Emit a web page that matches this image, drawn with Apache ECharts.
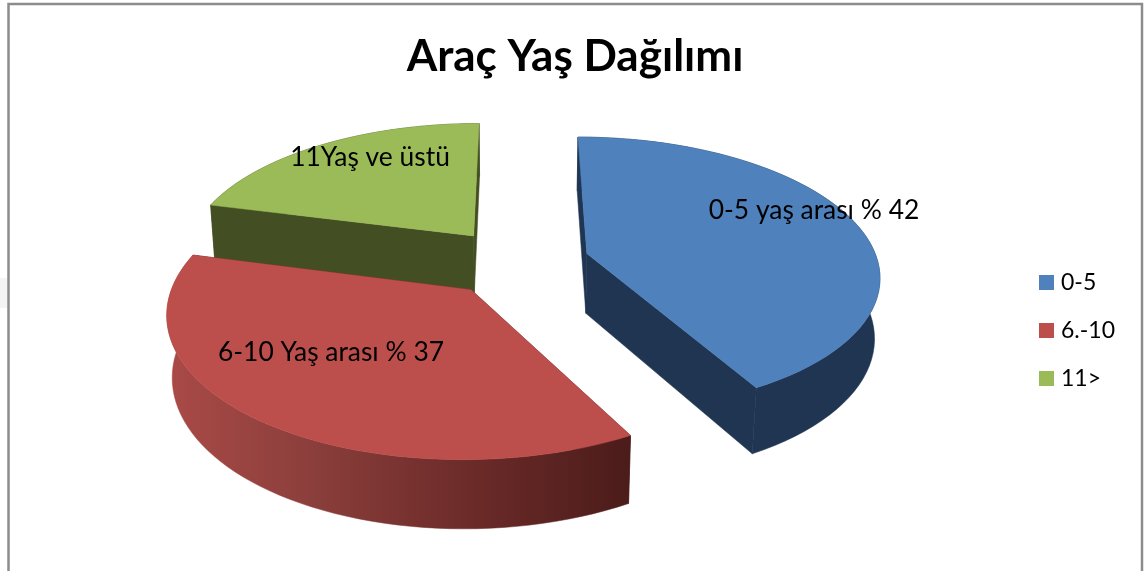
<!DOCTYPE html>
<html>
<head>
<meta charset="utf-8">
<style>
  html, body { margin: 0; padding: 0; background: #fff; }
  #chart { width: 1144px; height: 571px; }
</style>
<script src="https://cdn.jsdelivr.net/npm/echarts@6/dist/echarts.min.js"></script>
</head>
<body>
<div id="chart"></div>
<script>
const categories = ['0-5', '6.-10', '11>'];
const values = [42, 37, 21];
const sliceLabels = ['0-5 yaş arası % 42', '6-10 Yaş arası % 37', '11Yaş ve üstü'];
const topColors = ['#4f81bd', '#bc4f4c', '#9bbb59'];
const wallColors = ['#1f3552', '#5a2220', '#434e22'];
const FONT = 'Lato, "Open Sans", sans-serif';

// perspective pie, tuned by eye against the picture
const view = { cx: 517, cy: 262, rx: 291, ry: 136, depth: 61, k: 0.147, m: 0.015, explode: 0.25 };
// text centres of the slice labels
const labelCentres = [[814, 210], [331, 352], [370, 157]];

const total = values.reduce((a, b) => a + b, 0);

const project = (x, y, z) => {
  const s = 1 / (1 - view.k * y + view.m * z);
  return [view.cx + view.rx * x * s, view.cy + (view.ry * y + view.depth * z) * s];
};

const renderSlice = (params, api) => {
  const start = (api.value(0) / total) * Math.PI * 2;
  const sweep = (api.value(1) / total) * Math.PI * 2;
  const mid = start + sweep / 2;
  const ox = Math.sin(mid) * view.explode;
  const oy = -Math.cos(mid) * view.explode;
  const steps = 60;

  const arc = (z) => {
    const pts = [];
    for (let i = 0; i <= steps; i++) {
      const a = start + (sweep * i) / steps;
      pts.push(project(ox + Math.sin(a), oy - Math.cos(a), z));
    }
    return pts;
  };
  const topArc = arc(0);
  const lowArc = arc(1);
  const apexTop = project(ox, oy, 0);
  const apexLow = project(ox, oy, 1);
  const catIdx = api.value(2);
  const wall = wallColors[catIdx];

  const poly = (points, fill) => ({
    type: 'polygon',
    shape: { points },
    style: { fill, stroke: fill, lineWidth: 0.5 }
  });
  const outerFill = catIdx === 1
    ? new echarts.graphic.LinearGradient(0, 0, 1, 0, [
        { offset: 0, color: '#aa4a47' },
        { offset: 0.3, color: '#8c3f3c' },
        { offset: 0.65, color: '#6c2b29' },
        { offset: 1, color: '#4b1c1a' }
      ])
    : wall;

  return {
    type: 'group',
    children: [
      poly([apexTop, topArc[0], lowArc[0], apexLow], wall),
      poly([apexTop, topArc[steps], lowArc[steps], apexLow], catIdx === 1 ? '#4b1c1a' : wall),
      poly(topArc.concat(lowArc.slice().reverse()), outerFill),
      poly([apexTop].concat(topArc), topColors[catIdx]),
      {
        type: 'text',
        x: labelCentres[catIdx][0],
        y: labelCentres[catIdx][1],
        style: {
          text: sliceLabels[catIdx],
          fill: '#000',
          font: '26.4px ' + FONT,
          align: 'center',
          verticalAlign: 'middle'
        }
      }
    ]
  };
};

// start angle of each slice, clockwise from the back of the pie
const starts = values.map((_, i) => values.slice(0, i).reduce((a, b) => a + b, 0));

// back slice first so the front one paints over its wall
const drawOrder = [2, 0, 1];

const chart = echarts.init(document.getElementById('chart'), null, { renderer: 'canvas' });
chart.setOption({
  animation: false,
  backgroundColor: '#fff',
  title: {
    text: 'Araç Yaş Dağılımı',
    left: 570,
    top: 30,
    textAlign: 'center',
    textStyle: { fontFamily: FONT, fontSize: 44, fontWeight: 'bold', color: '#000' }
  },
  legend: {
    orient: 'vertical',
    left: 1034,
    top: 266,
    itemWidth: 15,
    itemHeight: 15,
    itemGap: 25,
    icon: 'rect',
    data: categories,
    textStyle: { fontFamily: FONT, fontSize: 23, color: '#000', padding: [0, 0, 0, 2] }
  },
  graphic: [
    { type: 'rect', silent: true, shape: { x: 0, y: 278, width: 7, height: 30 }, style: { fill: '#f4f4f4' } },
    {
      type: 'rect',
      silent: true,
      shape: { x: 8.5, y: 4, width: 1133.5, height: 600 },
      style: { fill: 'none', stroke: '#8c8c8c', lineWidth: 2.5 }
    }
  ],
  series: drawOrder.map((i) => ({
    type: 'custom',
    name: categories[i],
    coordinateSystem: 'none',
    itemStyle: { color: topColors[i] },
    renderItem: renderSlice,
    data: [[starts[i], values[i], i]]
  }))
});
</script>
</body>
</html>
